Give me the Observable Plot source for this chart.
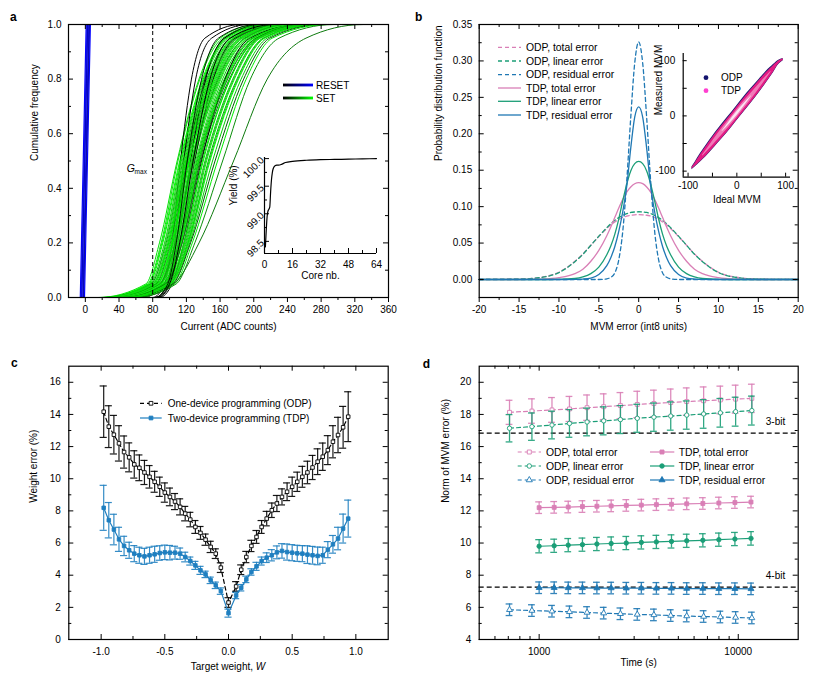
<!DOCTYPE html>
<html>
<head>
<meta charset="utf-8">
<script src="https://cdn.jsdelivr.net/npm/d3@7"></script>
<script src="https://cdn.jsdelivr.net/npm/@observablehq/plot@0.6"></script>
<style>
html,body{margin:0;padding:0;background:#fff;}
#fig{position:relative;width:822px;height:685px;overflow:hidden;background:#fff;}
</style>
</head>
<body>
<div id="fig"></div>
<script>
// ================= DATA =================
// ---- Panel a: cumulative distributions (x at cumulative levels) ----
const setLevels = [0, 0.05, 0.2, 0.5, 0.8, 0.95, 1];
const setCurves = [
  [15, 72, 88, 109, 135, 160, 205],
  [20, 74, 90, 110, 136, 163, 210],
  [18, 75, 91, 112, 139, 166, 212],
  [80, 94, 103, 113, 126, 142, 185],
  [22, 77, 94, 114, 141, 168, 215],
  [25, 79, 95, 115, 142, 170, 218],
  [20, 78, 96, 116, 144, 172, 220],
  [84, 97, 106, 117, 131, 150, 195],
  [28, 81, 98, 118, 146, 175, 225],
  [25, 80, 99, 119, 148, 177, 228],
  [30, 83, 100, 120, 149, 179, 230],
  [70, 90, 104, 121, 142, 165, 210],
  [28, 84, 102, 122, 151, 181, 232],
  [32, 86, 103, 123, 152, 183, 235],
  [30, 85, 104, 124, 154, 185, 238],
  [82, 99, 110, 125, 143, 165, 215],
  [35, 88, 106, 126, 156, 187, 240],
  [33, 88, 107, 127, 158, 189, 242],
  [36, 90, 108, 128, 159, 191, 245],
  [34, 89, 109, 129, 160, 193, 248],
  [86, 101, 113, 130, 152, 178, 235],
  [38, 92, 111, 132, 163, 196, 252],
  [40, 93, 112, 133, 165, 198, 255],
  [38, 94, 113, 134, 166, 200, 258],
  [42, 95, 114, 135, 168, 202, 260],
  [40, 96, 115, 137, 171, 205, 265],
  [88, 103, 117, 138, 166, 195, 255],
  [45, 98, 118, 140, 172, 203, 262],
  [42, 99, 119, 142, 175, 206, 266],
  [48, 100, 121, 144, 177, 208, 270],
  [45, 101, 122, 146, 180, 211, 272],
  [50, 102, 123, 148, 182, 213, 275],
  [48, 103, 124, 151, 185, 216, 278],
  [52, 104, 125, 154, 188, 219, 282],
  [55, 106, 127, 157, 191, 222, 288],
  [58, 108, 130, 163, 196, 230, 295],
  [60, 105, 135, 176, 216, 262, 330],
  [24, 76, 92, 113, 140, 167, 214],
  [26, 80, 97, 117, 145, 173, 222],
  [30, 82, 99, 119.5, 147, 176, 226],
  [32, 84, 101, 121, 150, 180, 231],
  [34, 86, 103, 123.5, 153, 184, 236],
  [36, 87, 105, 125.5, 155, 186, 239],
  [38, 89, 107, 127.5, 157, 190, 243],
  [40, 91, 110, 131, 161, 194, 250],
  [42, 93, 113, 134.5, 167, 199, 256],
  [44, 95, 115, 136, 169, 203, 262],
  [46, 97, 117, 139, 172, 205, 265],
  [48, 99, 120, 143, 176, 207, 268],
  [50, 101, 122, 147, 181, 212, 273],
  [85, 100, 112, 128, 148, 172, 225],
  [83, 98, 108, 121, 138, 158, 205]
];
const setTailStart = 0;     // curves lie on 0 from here
const setTailEnd = 355;     // curves lie on 1 up to here
const resetLevels = [0, 0.5, 1];
const resetCurves = [[-6, -2.5, 1], [-5, -1.5, 2], [-4.5, -1, 2.5], [-4, -0.5, 3], [-3, 0.5, 4], [-2.5, 1, 4.5], [-2, 1.5, 5], [-1, 2.5, 6]];
const gMax = 80;
// inset: yield vs core number
const yieldCore = [0.5, 1, 1.5, 2, 2.5, 3, 3.5, 4, 4.5, 5, 6, 7, 8, 10, 12, 16, 24, 32, 40, 48, 56, 64];
const yieldPct  = [98.4, 98.7, 98.95, 99.05, 99.08, 99.12, 99.4, 99.62, 99.75, 99.82, 99.87, 99.88, 99.88, 99.9, 99.93, 99.95, 99.97, 99.98, 99.985, 99.99, 99.995, 100.0];

// ---- Panel b: probability distribution functions ----
const mvmErr = [-20,-15,-12,-10,-8,-7,-6,-5,-4,-3.5,-3,-2.5,-2,-1.5,-1,-0.5,0,0.5,1,1.5,2,2.5,3,3.5,4,5,6,7,8,10,12,15,20];
const pdfOdpTotal = [0, 0.0006, 0.0035, 0.010, 0.025, 0.035, 0.047, 0.059, 0.070, 0.075, 0.079, 0.0825, 0.0852, 0.087, 0.0882, 0.0888, 0.089, 0.0888, 0.0882, 0.087, 0.0852, 0.0825, 0.079, 0.075, 0.070, 0.059, 0.047, 0.035, 0.025, 0.010, 0.0035, 0.0006, 0];
const pdfOdpLinear = [0, 0.0005, 0.0032, 0.0095, 0.0245, 0.0345, 0.047, 0.0595, 0.0712, 0.0765, 0.0812, 0.085, 0.088, 0.0905, 0.092, 0.0927, 0.093, 0.0927, 0.092, 0.0905, 0.088, 0.085, 0.0812, 0.0765, 0.0712, 0.0595, 0.047, 0.0345, 0.0245, 0.0095, 0.0032, 0.0005, 0];
const pdfOdpResidual = [0, 0, 0, 0, 0, 0, 0, 0, 0.001, 0.003, 0.009, 0.027, 0.066, 0.135, 0.222, 0.297, 0.326, 0.297, 0.222, 0.135, 0.066, 0.027, 0.009, 0.003, 0.001, 0, 0, 0, 0, 0, 0, 0, 0];
const pdfTdpTotal = [0, 0, 0.0006, 0.0025, 0.008, 0.014, 0.025, 0.04, 0.06, 0.072, 0.085, 0.098, 0.11, 0.12, 0.127, 0.1315, 0.133, 0.1315, 0.127, 0.12, 0.11, 0.098, 0.085, 0.072, 0.06, 0.04, 0.025, 0.014, 0.008, 0.0025, 0.0006, 0, 0];
const pdfTdpLinear = [0, 0, 0, 0.0002, 0.0014, 0.0035, 0.008, 0.017, 0.034, 0.046, 0.062, 0.083, 0.108, 0.131, 0.149, 0.159, 0.162, 0.159, 0.149, 0.131, 0.108, 0.083, 0.062, 0.046, 0.034, 0.017, 0.008, 0.0035, 0.0014, 0.0002, 0, 0, 0];
const pdfTdpResidual = [0, 0, 0, 0, 0.0002, 0.0006, 0.002, 0.007, 0.019, 0.03, 0.045, 0.066, 0.093, 0.128, 0.18, 0.223, 0.237, 0.223, 0.18, 0.128, 0.093, 0.066, 0.045, 0.03, 0.019, 0.007, 0.002, 0.0006, 0.0002, 0, 0, 0, 0];
// inset: measured vs ideal MVM, density envelopes
const cloudIdeal = [-92, -85, -75, -60, -40, -20, 0, 20, 40, 60, 75, 85, 95];
const odpCloudHi = [-92.5, -83, -68.5, -49.5, -25.5, -3.5, 18.5, 40.5, 60.5, 80.5, 93, 100.5, 104];
const odpCloudLo = [-97.5, -92, -84, -71, -51, -31, -9, 13, 35, 59, 78, 92, 100];
const tdpCloudHi = [-93.5, -85, -71, -52, -28, -6, 16, 38, 58, 78, 91, 99, 103.5];
const tdpCloudLo = [-96.5, -91, -83, -70, -50, -30, -8, 14, 36, 60, 79, 93, 100.5];
const denseIdeal = [-70, -50, -30, -10, 10, 30, 50, 70];
const denseHi = [-71, -46, -22, 0, 22, 42, 62, 81];
const denseLo = [-73, -54, -34, -14, 8, 30, 54, 79];
const coreIdeal = [-30, -15, 0, 15, 30];
const coreHi = [-27.5, -9.5, 7.5, 22.5, 36.5];
const coreLo = [-28.5, -14.5, 0.5, 17.5, 35.5];

// ---- Panel c: weight error vs target weight ----
const targetW = [-0.98,-0.94,-0.90,-0.86,-0.82,-0.78,-0.74,-0.70,-0.66,-0.62,-0.58,-0.54,-0.50,-0.46,-0.42,-0.38,-0.34,-0.30,-0.26,-0.22,-0.18,-0.14,-0.10,-0.06,0.00,0.06,0.10,0.14,0.18,0.22,0.26,0.30,0.34,0.38,0.42,0.46,0.50,0.54,0.58,0.62,0.66,0.70,0.74,0.78,0.82,0.86,0.90,0.94];
const odpWeightErr = [14.17,13.24,12.74,12.2,11.66,11.33,10.89,10.68,10.39,10.12,9.81,9.5,9.14,8.87,8.58,8.25,7.83,7.46,7.0,6.63,6.21,5.76,5.34,4.47,2.3,3.3,4.34,5.13,5.82,6.38,7.0,7.52,8.04,8.46,8.87,9.19,9.5,9.81,10.12,10.39,10.7,11.06,11.37,11.78,12.3,12.72,13.2,13.86];
const odpWeightSd = [1.6,1.3,1.2,1.1,1.0,0.9,0.85,0.8,0.75,0.7,0.65,0.6,0.6,0.55,0.5,0.5,0.45,0.45,0.4,0.4,0.35,0.35,0.3,0.3,0.3,0.3,0.3,0.35,0.35,0.4,0.4,0.45,0.45,0.5,0.5,0.55,0.6,0.6,0.65,0.7,0.75,0.8,0.85,0.9,1.0,1.1,1.3,1.55];
const tdpWeightErr = [8.19,7.42,6.84,6.23,5.82,5.55,5.34,5.24,5.17,5.24,5.3,5.38,5.42,5.4,5.4,5.34,5.13,4.88,4.61,4.3,4.05,3.68,3.37,3.01,1.64,2.74,3.22,3.74,4.2,4.55,4.88,5.09,5.24,5.42,5.51,5.44,5.4,5.36,5.34,5.28,5.24,5.2,5.24,5.59,5.92,6.28,6.9,7.52];
const tdpWeightSd = [1.4,1.1,0.95,0.75,0.6,0.5,0.5,0.5,0.5,0.5,0.5,0.45,0.45,0.45,0.4,0.35,0.3,0.25,0.25,0.25,0.2,0.2,0.2,0.2,0.25,0.2,0.2,0.2,0.2,0.25,0.25,0.3,0.35,0.4,0.45,0.5,0.5,0.5,0.5,0.55,0.55,0.55,0.5,0.5,0.55,0.7,0.9,1.15];

// ---- Panel d: norm of MVM error vs time ----
const odpTime = [710, 920, 1160, 1420, 1740, 2110, 2560, 3110, 3770, 4580, 5510, 6700, 8130, 9700, 11700];
const tdpTime = [1000, 1190, 1400, 1650, 1950, 2300, 2740, 3260, 3880, 4620, 5510, 6640, 7990, 9620, 11590];
const odpTotalNorm = [18.13,18.21,18.28,18.34,18.42,18.48,18.55,18.62,18.68,18.74,18.8,18.85,18.9,18.95,19.0];
const odpTotalSd = [0.75,0.76,0.77,0.78,0.79,0.8,0.81,0.82,0.83,0.84,0.85,0.86,0.86,0.87,0.88];
const odpLinearNorm = [17.14,17.24,17.34,17.44,17.53,17.6,17.68,17.76,17.83,17.9,17.96,18.03,18.1,18.17,18.24];
const odpLinearSd = [0.85,0.85,0.86,0.86,0.86,0.87,0.87,0.87,0.88,0.88,0.88,0.89,0.89,0.9,0.9];
const odpResidualNorm = [5.85,5.8,5.76,5.72,5.68,5.64,5.6,5.56,5.53,5.49,5.46,5.43,5.4,5.37,5.34];
const odpResidualSd = [0.36,0.36,0.36,0.36,0.36,0.36,0.36,0.36,0.36,0.36,0.36,0.36,0.36,0.36,0.36];
const tdpTotalNorm = [12.2,12.22,12.24,12.27,12.29,12.31,12.34,12.36,12.39,12.41,12.44,12.46,12.49,12.52,12.55];
const tdpTotalSd = [0.36,0.36,0.36,0.36,0.36,0.36,0.36,0.36,0.36,0.36,0.36,0.36,0.36,0.36,0.36];
const tdpLinearNorm = [9.8,9.83,9.87,9.9,9.94,9.97,10.0,10.04,10.07,10.1,10.14,10.17,10.21,10.25,10.29];
const tdpLinearSd = [0.41,0.41,0.41,0.41,0.41,0.41,0.41,0.41,0.41,0.41,0.41,0.41,0.41,0.41,0.42];
const tdpResidualNorm = [7.22,7.22,7.21,7.21,7.2,7.2,7.19,7.19,7.18,7.18,7.17,7.17,7.16,7.16,7.15];
const tdpResidualSd = [0.36,0.36,0.36,0.36,0.36,0.36,0.36,0.36,0.36,0.36,0.36,0.36,0.36,0.36,0.36];
const bitLevels = [16.84, 7.26];
const bitLabels = ["3-bit", "4-bit"];

// ================= STYLE =================
const FONT = '"Liberation Sans", Arial, Helvetica, sans-serif';
const PINK = "#d97fb6", GREEN = "#1b9e77", BLUE = "#1f78b4", CBLUE = "#1f7fc0";
const setColors = ["#00e600","#19d119","#00ff00","#000000","#0fbf0f","#22ee22","#0a9e0a","#000000","#00dd00","#14c814","#00f000","#083d08","#1ad41a","#00b400","#00e600","#000000","#10e010","#0c8c0c","#00ff00","#18c818","#041f04","#00d800","#11aa11","#00f500","#1ee01e","#066b06","#000000","#00e000","#12c012","#00ff00","#0ca00c","#1bdc1b","#00cc00","#055505","#00ee00","#0b8f0b","#0d7a0d",
  "#00f000","#16d816","#00e800","#0e9a0e","#00ff00","#1fd01f","#00c400","#22e622","#00dc00","#0a820a","#00f200","#19c019","#00e400","#000000","#021802"];
const resetColors = ["#0000ff","#0a0ad8","#1a1aff","#0000b8","#2020f0","#0000e0","#10109a","#0000ff"];
const style = {fontFamily: FONT, fontSize: "10px", color: "#000", background: "transparent", overflow: "visible"};
const fig = document.getElementById("fig");
function put(svg, left, top) {
  svg.style.position = "absolute"; svg.style.left = left + "px"; svg.style.top = top + "px";
  fig.appendChild(svg); return svg;
}
const hy = n => d => (d < 0 ? "-" : "") + Math.abs(d).toFixed(n);
function boxTicks(xs, ys, len, iw, ih, sides) {
  const m = [];
  const o = {stroke: "#000", strokeWidth: 1};
  if (sides.includes("t")) m.push(Plot.tickX(xs, {x: d => d, insetBottom: ih - len, ...o}));
  if (sides.includes("b")) m.push(Plot.tickX(xs, {x: d => d, insetTop: ih - len, ...o}));
  if (sides.includes("l")) m.push(Plot.tickY(ys, {y: d => d, insetRight: iw - len, ...o}));
  if (sides.includes("r")) m.push(Plot.tickY(ys, {y: d => d, insetLeft: iw - len, ...o}));
  return m;
}

// ================= PANEL A =================
const setRows = [];
setCurves.forEach((c, i) => {
  setRows.push({id: i, x: setTailStart, y: 0, c: setColors[i]});
  c.forEach((x, j) => setRows.push({id: i, x, y: setLevels[j], c: setColors[i]}));
  setRows.push({id: i, x: setTailEnd, y: 1, c: setColors[i]});
});
const resetRows = [];
resetCurves.forEach((c, i) => c.forEach((x, j) => resetRows.push({id: i, x, y: resetLevels[j], c: resetColors[i]})));

const aMajX = [0,40,80,120,160,200,240,280,320,360], aMinX = [20,60,100,140,180,220,260,300,340];
const aMajY = [0,0.2,0.4,0.6,0.8,1.0], aMinY = [0.1,0.3,0.5,0.7,0.9];
const plotA = Plot.plot({
  width: 411, height: 340, marginLeft: 68, marginRight: 23, marginTop: 24, marginBottom: 43,
  style, x: {domain: [-20, 360], axis: null}, y: {domain: [0, 1], axis: null}, color: {type: "identity"},
  marks: [
    Plot.line(resetRows, {x: "x", y: "y", z: "id", stroke: "c", strokeWidth: 1.2, curve: "monotone-x"}),
    Plot.line(setRows, {x: "x", y: "y", z: "id", stroke: "c", strokeWidth: 1, curve: "monotone-x"}),
    Plot.ruleX([gMax], {x: d => d, stroke: "#000", strokeWidth: 1, strokeDasharray: "4,3"}),
    ...boxTicks(aMajX, aMajY, 5, 320, 273, "tlr"),
    ...boxTicks(aMinX, aMinY, 3, 320, 273, "tlr"),
    Plot.axisX(aMajX, {tickSize: 5, tickPadding: 3, tickFormat: d => String(d), label: null}),
    Plot.axisX(aMinX, {tickSize: 3, tickFormat: () => "", label: null}),
    Plot.axisY(aMajY, {tickSize: 0, tickPadding: 7, tickFormat: d => d.toFixed(1), label: null}),
    Plot.frame({stroke: "#000", strokeWidth: 1.2}),
    Plot.text(["Cumulative frequency"], {text: d => d, frameAnchor: "left", rotate: -90, dx: -34}),
    Plot.text(["Current (ADC counts)"], {text: d => d, frameAnchor: "bottom", dy: 32})
  ]
});
put(plotA, 0, 0);

const yieldRows = yieldCore.map((c, i) => ({c, v: yieldPct[i]}));
const inXDom = [0, 64], inYDom = [98.28, 100.02];
const plotAin = Plot.plot({
  width: 160, height: 150, marginLeft: 34, marginRight: 14, marginTop: 17, marginBottom: 37,
  style, x: {domain: inXDom, axis: null}, y: {domain: inYDom, axis: null},
  marks: [
    Plot.ruleX([inXDom[0]], {x: d => d, stroke: "#000", strokeWidth: 1.2}),
    Plot.ruleY([inYDom[0]], {y: d => d, stroke: "#000", strokeWidth: 1.2}),
    ...boxTicks([0,16,32,48,64], [98.5,99,99.5,100], 5, 112, 96, "bl"),
    ...boxTicks([8,24,40,56], [98.75,99.25,99.75], 3, 112, 96, "bl"),
    Plot.line(yieldRows, {x: "c", y: "v", stroke: "#000", strokeWidth: 1.2, curve: "monotone-x"}),
    Plot.axisX([0,16,32,48,64], {tickSize: 0, tickPadding: 7, tickFormat: d => String(d), label: null}),
    Plot.axisY([98.5,99,99.5,100], {tickSize: 0, tickPadding: 2, tickRotate: -45, tickFormat: d => d.toFixed(1), label: null}),
    Plot.text(["Core nb."], {text: d => d, frameAnchor: "bottom", dy: 25}),
    Plot.text(["Yield (%)"], {text: d => d, frameAnchor: "left", rotate: -90, dx: -31})
  ]
});
put(plotAin, 230, 140);

// ================= PANEL B =================
const pdfSeries = [
  {v: pdfOdpTotal, color: PINK, dash: "4,3"},
  {v: pdfOdpLinear, color: GREEN, dash: "4,3"},
  {v: pdfOdpResidual, color: BLUE, dash: "4,3"},
  {v: pdfTdpTotal, color: PINK},
  {v: pdfTdpLinear, color: GREEN},
  {v: pdfTdpResidual, color: BLUE}
];
const bMajX = [-20,-15,-10,-5,0,5,10,15,20], bMinX = [-17.5,-12.5,-7.5,-2.5,2.5,7.5,12.5,17.5];
const bMajY = [0,0.05,0.1,0.15,0.2,0.25,0.3,0.35], bMinY = [0.025,0.075,0.125,0.175,0.225,0.275,0.325];
const plotB = Plot.plot({
  width: 411, height: 340, marginLeft: 67.7, marginRight: 24.3, marginTop: 24, marginBottom: 43,
  style, x: {domain: [-20, 20], axis: null}, y: {domain: [-0.0247, 0.35], axis: null},
  marks: [
    ...pdfSeries.map(s => Plot.line(mvmErr.map((x, i) => ({x, y: s.v[i]})), {x: "x", y: "y", stroke: s.color, strokeWidth: 1.3, strokeDasharray: s.dash, curve: "monotone-x"})),
    ...boxTicks(bMajX, bMajY, 5, 319, 273, "tlr"),
    ...boxTicks(bMinX, bMinY, 3, 319, 273, "tlr"),
    Plot.axisX(bMajX, {tickSize: 5, tickPadding: 3, tickFormat: hy(0), label: null}),
    Plot.axisX(bMinX, {tickSize: 3, tickFormat: () => "", label: null}),
    Plot.axisY(bMajY, {tickSize: 0, tickPadding: 7, tickFormat: d => d.toFixed(2), label: null}),
    Plot.frame({stroke: "#000", strokeWidth: 1.2}),
    Plot.text(["Probability distribution function"], {text: d => d, frameAnchor: "left", rotate: -90, dx: -40}),
    Plot.text(["MVM error (int8 units)"], {text: d => d, frameAnchor: "bottom", dy: 32})
  ]
});
put(plotB, 411, 0);

const band = (xs, lo, hi) => xs.map((x, i) => ({x, lo: lo[i], hi: hi[i]}));
const binX = [-110, 110], binY = [-111, 113];
const plotBin = Plot.plot({
  width: 160, height: 165, marginLeft: 42.7, marginRight: 10, marginTop: 8, marginBottom: 33.3,
  style, x: {domain: binX, axis: null}, y: {domain: binY, axis: null},
  marks: [
    Plot.areaY(band(cloudIdeal, odpCloudLo, odpCloudHi), {x: "x", y1: "lo", y2: "hi", fill: "#1b1b6e", curve: "natural"}),
    Plot.areaY(band(cloudIdeal, tdpCloudLo, tdpCloudHi), {x: "x", y1: "lo", y2: "hi", fill: "#e31b83", curve: "natural"}),
    Plot.areaY(band(denseIdeal, denseLo, denseHi), {x: "x", y1: "lo", y2: "hi", fill: "#f07ab8", curve: "natural"}),
    Plot.areaY(band(coreIdeal, coreLo, coreHi), {x: "x", y1: "lo", y2: "hi", fill: "#fce6f2", curve: "natural"}),
    Plot.ruleX([binX[0]], {x: d => d, stroke: "#000", strokeWidth: 1.2}),
    Plot.ruleY([binY[0]], {y: d => d, stroke: "#000", strokeWidth: 1.2}),
    ...boxTicks([-100,-50,0,50,100], [-100,-50,0,50,100], 4, 107.3, 123.7, "bl"),
    Plot.axisX([-100,0,100], {tickSize: 0, tickPadding: 5, tickFormat: hy(0), label: null}),
    Plot.axisY([-100,0,100], {tickSize: 0, tickPadding: 8, tickFormat: hy(0), label: null}),
    Plot.text(["Ideal MVM"], {text: d => d, frameAnchor: "bottom", dy: 26}),
    Plot.text(["Measured MVM"], {text: d => d, frameAnchor: "left", rotate: -90, dx: -24})
  ]
});
put(plotBin, 640, 45);

// ================= PANEL C =================
const odpC = targetW.map((x, i) => ({x, v: odpWeightErr[i], e: odpWeightSd[i]}));
const tdpC = targetW.map((x, i) => ({x, v: tdpWeightErr[i], e: tdpWeightSd[i]}));
const capC = 0.028;
function errC(rows, color, dash, fill) {
  return [
    Plot.ruleX(rows, {x: "x", y1: d => d.v - d.e, y2: d => d.v + d.e, stroke: color, strokeWidth: 1.2, strokeOpacity: 0.9}),
    Plot.ruleY(rows, {y: d => d.v - d.e, x1: d => d.x - capC, x2: d => d.x + capC, stroke: color, strokeWidth: 1.2, strokeOpacity: 0.9}),
    Plot.ruleY(rows, {y: d => d.v + d.e, x1: d => d.x - capC, x2: d => d.x + capC, stroke: color, strokeWidth: 1.2, strokeOpacity: 0.9}),
    Plot.line(rows, {x: "x", y: "v", stroke: color, strokeWidth: 1.2, strokeDasharray: dash}),
    Plot.dot(rows, {x: "x", y: "v", symbol: "square", r: 2, stroke: color, fill, strokeWidth: 0.9})
  ];
}
const cMajX = [-1,-0.5,0,0.5,1], cMinX = [-0.75,-0.25,0.25,0.75];
const cMajY = [0,2,4,6,8,10,12,14,16], cMinY = [1,3,5,7,9,11,13,15];
const plotC = Plot.plot({
  width: 411, height: 345, marginLeft: 68.3, marginRight: 23.3, marginTop: 25.7, marginBottom: 46,
  style, x: {domain: [-1.254, 1.254], axis: null}, y: {domain: [0, 17], axis: null},
  marks: [
    ...errC(odpC, "#000", "4,3", "#fff"),
    ...errC(tdpC, CBLUE, undefined, CBLUE),
    ...boxTicks(cMajX, cMajY, 5, 319.4, 273.3, "tblr"),
    ...boxTicks(cMinX, cMinY, 3, 319.4, 273.3, "tblr"),
    Plot.axisX(cMajX, {tickSize: 0, tickPadding: 8, tickFormat: hy(1), label: null}),
    Plot.axisY(cMajY, {tickSize: 0, tickPadding: 8, tickFormat: d => String(d), label: null}),
    Plot.frame({stroke: "#000", strokeWidth: 1.2}),
    Plot.text(["Weight error (%)"], {text: d => d, frameAnchor: "left", rotate: -90, dx: -35})
  ]
});
put(plotC, 0, 340);

// ================= PANEL D =================
const mk = (ts, vs, es) => ts.map((x, i) => ({x, v: vs[i], e: es[i]}));
const dSeries = [
  {rows: mk(odpTime, odpTotalNorm, odpTotalSd), color: PINK, dash: "4,3", symbol: "square", open: true},
  {rows: mk(odpTime, odpLinearNorm, odpLinearSd), color: GREEN, dash: "4,3", symbol: "circle", open: true},
  {rows: mk(odpTime, odpResidualNorm, odpResidualSd), color: BLUE, dash: "4,3", symbol: "triangle", open: true},
  {rows: mk(tdpTime, tdpTotalNorm, tdpTotalSd), color: PINK, symbol: "square"},
  {rows: mk(tdpTime, tdpLinearNorm, tdpLinearSd), color: GREEN, symbol: "circle"},
  {rows: mk(tdpTime, tdpResidualNorm, tdpResidualSd), color: BLUE, symbol: "triangle"}
];
const capD = 1.04;
const dMarks = [];
for (const s of dSeries) {
  const o = {stroke: s.color, strokeWidth: 1.3, strokeOpacity: 0.9};
  dMarks.push(
    Plot.ruleX(s.rows, {x: "x", y1: d => d.v - d.e, y2: d => d.v + d.e, ...o}),
    Plot.ruleY(s.rows, {y: d => d.v - d.e, x1: d => d.x / capD, x2: d => d.x * capD, ...o}),
    Plot.ruleY(s.rows, {y: d => d.v + d.e, x1: d => d.x / capD, x2: d => d.x * capD, ...o}),
    Plot.line(s.rows, {x: "x", y: "v", stroke: s.color, strokeWidth: 1.2, strokeDasharray: s.dash}),
    Plot.dot(s.rows, {x: "x", y: "v", symbol: s.symbol, r: 2.2, stroke: s.color, fill: s.open ? "#fff" : s.color, strokeWidth: 0.9})
  );
}
const bitRows = bitLevels.map((v, i) => ({v, label: bitLabels[i]}));
const dMajX = [1000, 10000], dMinX = [600,700,800,900,2000,3000,4000,5000,6000,7000,8000,9000];
const dMajY = [4,6,8,10,12,14,16,18,20], dMinY = [5,7,9,11,13,15,17,19];
const plotD = Plot.plot({
  width: 411, height: 345, marginLeft: 67.7, marginRight: 24.3, marginTop: 25.7, marginBottom: 46,
  style, x: {type: "log", domain: [500, 20000], axis: null}, y: {domain: [4, 21], axis: null},
  marks: [
    Plot.ruleY(bitRows, {y: "v", stroke: "#000", strokeWidth: 1.2, strokeDasharray: "5,3"}),
    Plot.text(bitRows, {y: "v", text: "label", frameAnchor: "right", textAnchor: "end", dx: -13, dy: -11}),
    ...dMarks,
    ...boxTicks(dMajX, dMajY, 5, 319, 273.3, "tblr"),
    ...boxTicks(dMinX, dMinY, 3, 319, 273.3, "tblr"),
    Plot.axisX(dMajX, {tickSize: 0, tickPadding: 8, tickFormat: d => String(d), label: null}),
    Plot.axisY(dMajY, {tickSize: 0, tickPadding: 8, tickFormat: d => String(d), label: null}),
    Plot.frame({stroke: "#000", strokeWidth: 1.2}),
    Plot.text(["Norm of MVM error (%)"], {text: d => d, frameAnchor: "left", rotate: -90, dx: -33}),
    Plot.text(["Time (s)"], {text: d => d, frameAnchor: "bottom", dy: 26})
  ]
});
put(plotD, 411, 340);

// ================= OVERLAY: panel letters, legends, special labels =================
const ov = d3.create("svg").attr("width", 822).attr("height", 685)
  .style("position", "absolute").style("left", "0px").style("top", "0px")
  .attr("font-family", FONT).attr("font-size", 10);
fig.appendChild(ov.node());
function txt(x, y, s, o = {}) {
  const t = ov.append("text").attr("x", x).attr("y", y).attr("dy", "0.35em").text(s);
  if (o.anchor) t.attr("text-anchor", o.anchor);
  if (o.size) t.attr("font-size", o.size);
  if (o.bold) t.attr("font-weight", "bold");
  if (o.italic) t.attr("font-style", "italic");
  return t;
}
function seg(x1, x2, y, color, dash, w = 1.3) {
  const l = ov.append("line").attr("x1", x1).attr("x2", x2).attr("y1", y).attr("y2", y)
    .attr("stroke", color).attr("stroke-width", w);
  if (dash) l.attr("stroke-dasharray", dash);
  return l;
}
const symType = {square: d3.symbolSquare, circle: d3.symbolCircle, triangle: d3.symbolTriangle};
function sym(x, y, type, color, fill, size) {
  ov.append("path").attr("transform", `translate(${x},${y})`).attr("d", d3.symbol(symType[type], size)())
    .attr("fill", fill).attr("stroke", color).attr("stroke-width", 0.9);
}
// panel letters
txt(10, 16.5, "a", {bold: true, size: 12});
txt(415, 16.5, "b", {bold: true, size: 12});
txt(11, 362.5, "c", {bold: true, size: 12});
txt(422.7, 363.8, "d", {bold: true, size: 12});

// panel a legend with gradients
const defs = ov.append("defs");
function grad(id, c2) {
  const g = defs.append("linearGradient").attr("id", id).attr("x1", "0%").attr("x2", "100%").attr("y1", "0%").attr("y2", "0%");
  g.append("stop").attr("offset", "0%").attr("stop-color", "#000");
  g.append("stop").attr("offset", "100%").attr("stop-color", c2);
}
grad("gReset", "#0000ff"); grad("gSet", "#00ff00");
ov.append("rect").attr("x", 283).attr("y", 83.6).attr("width", 30).attr("height", 2.8).attr("fill", "url(#gReset)");
ov.append("rect").attr("x", 283).attr("y", 96.6).attr("width", 30).attr("height", 2.8).attr("fill", "url(#gSet)");
txt(316, 85, "RESET");
txt(316, 98, "SET");
// G_max label near the dashed line
const xg = plotA.scale("x").apply(gMax);
txt(xg - 25.5, 168, "G", {italic: true, size: 10.5});
txt(xg - 17.6, 171.5, "max", {size: 6.5});

// panel b legend
const bLegend = [
  ["ODP, total error", PINK, "4,3"], ["ODP, linear error", GREEN, "4,3"], ["ODP, residual error", BLUE, "4,3"],
  ["TDP, total error", PINK, null], ["TDP, linear error", GREEN, null], ["TDP, residual error", BLUE, null]
];
const bRowsY = [47.3, 61, 74.7, 88, 101.3, 115];
bLegend.forEach(([t, c, dash], i) => { seg(498, 521, bRowsY[i], c, dash); txt(526, bRowsY[i], t, {size: 10.4}); });
// inset b legend
ov.append("circle").attr("cx", 706).attr("cy", 77.7).attr("r", 2.4).attr("fill", "#14146e");
ov.append("circle").attr("cx", 706).attr("cy", 90.7).attr("r", 2.4).attr("fill", "#ff40d0");
txt(721, 77.7, "ODP");
txt(721, 90.7, "TDP");

// panel c legend + x title with italic W
seg(140, 161.7, 403.3, "#000", "4,3", 1.2);
sym(151, 403.3, "square", "#000", "#fff", 14);
txt(167.7, 403.3, "One-device programming (ODP)");
seg(140, 161.7, 418, CBLUE, null, 1.2);
sym(151, 418, "square", CBLUE, CBLUE, 14);
txt(167.7, 418, "Two-device programming (TDP)");
const tw = txt(228, 666, "Target weight, ", {anchor: "middle"});
tw.append("tspan").attr("font-style", "italic").text("W");

// panel d legend
const dLegend = [
  [529.3, 517.7, 541, 546, 452, "ODP, total error", PINK, "4,3", "square", true],
  [529.3, 517.7, 541, 546, 466, "ODP, linear error", GREEN, "4,3", "circle", true],
  [529.3, 517.7, 541, 546, 480, "ODP, residual error", BLUE, "4,3", "triangle", true],
  [662, 650, 674.3, 678.7, 452, "TDP, total error", PINK, null, "square", false],
  [662, 650, 674.3, 678.7, 466, "TDP, linear error", GREEN, null, "circle", false],
  [662, 650, 674.3, 678.7, 480, "TDP, residual error", BLUE, null, "triangle", false]
];
dLegend.forEach(([cx, x1, x2, tx, y, t, c, dash, s, open]) => {
  seg(x1, x2, y, c, dash, 1.2);
  sym(cx, y, s, c, open ? "#fff" : c, 16);
  txt(tx, y, t, {size: 10.4});
});
</script>
</body>
</html>
